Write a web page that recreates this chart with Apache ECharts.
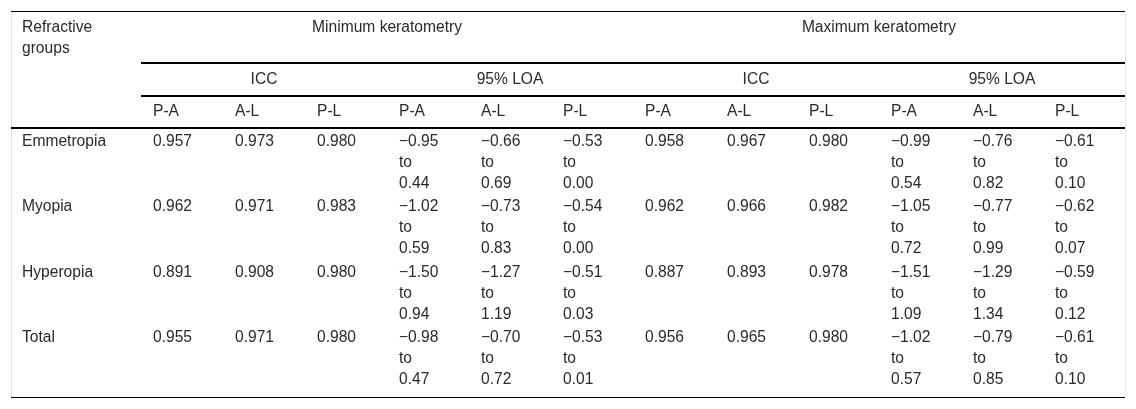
<!DOCTYPE html>
<html>
<head>
<meta charset="utf-8">
<title>Keratometry agreement by refractive group</title>
<script src="https://cdn.jsdelivr.net/npm/echarts@6.0.0/dist/echarts.min.js"></script>
<style>
  html, body { margin: 0; padding: 0; background: #fff; }
  #main { width: 1136px; height: 409px; }
</style>
</head>
<body>
<div id="main"></div>
<script>
// table content
var stubTitle = 'Refractive\ngroups';
var groups = ['Emmetropia', 'Myopia', 'Hyperopia', 'Total'];
var measures = ['Minimum keratometry', 'Maximum keratometry'];
var stats = ['ICC', '95% LOA'];
var pairs = ['P-A', 'A-L', 'P-L'];

// ICC per group, columns P-A, A-L, P-L
var iccMin = [
    [0.957, 0.973, 0.980],
    [0.962, 0.971, 0.983],
    [0.891, 0.908, 0.980],
    [0.955, 0.971, 0.980]
];
var iccMax = [
    [0.958, 0.967, 0.980],
    [0.962, 0.966, 0.982],
    [0.887, 0.893, 0.978],
    [0.956, 0.965, 0.980]
];

// 95% limits of agreement [lower, upper]
var loaMin = [
    [[-0.95, 0.44], [-0.66, 0.69], [-0.53, 0.00]],
    [[-1.02, 0.59], [-0.73, 0.83], [-0.54, 0.00]],
    [[-1.50, 0.94], [-1.27, 1.19], [-0.51, 0.03]],
    [[-0.98, 0.47], [-0.70, 0.72], [-0.53, 0.01]]
];
var loaMax = [
    [[-0.99, 0.54], [-0.76, 0.82], [-0.61, 0.10]],
    [[-1.05, 0.72], [-0.77, 0.99], [-0.62, 0.07]],
    [[-1.51, 1.09], [-1.29, 1.34], [-0.59, 0.12]],
    [[-1.02, 0.57], [-0.79, 0.85], [-0.61, 0.10]]
];

// layout of rows, in table units (table is 23 units high)
var HEAD_TOP = [0, 3.1, 5.05];
var BODY_TOP = 7;
var BODY_ROW = 3.9;
var TABLE_END = 23;

var FONT = '"Liberation Sans", Arial, Helvetica, sans-serif';
var TEXT = '#2a2a2a';

function bodyTop(i) {
    return BODY_TOP + i * BODY_ROW;
}

function fmt(v) {
    return (v < 0 ? '\u2212' : '') + Math.abs(v).toFixed(2);
}

var columns = [];
measures.forEach(function (m) {
    stats.forEach(function (s) {
        pairs.forEach(function (p) {
            columns.push(m + ' / ' + s + ' / ' + p);
        });
    });
});

var iccSets = [iccMin, iccMax];
var loaSets = [loaMin, loaMax];

var dataCells = [];
var stubCells = [{ c0: 0, c1: 0, top: HEAD_TOP[0], text: stubTitle, align: 'left', head: true }];

measures.forEach(function (m, mi) {
    var c0 = mi * 6;
    dataCells.push({ c0: c0, c1: c0 + 5, top: HEAD_TOP[0], text: m, align: 'center', head: true });
    stats.forEach(function (s, si) {
        var c = c0 + si * 3;
        dataCells.push({ c0: c, c1: c + 2, top: HEAD_TOP[1], text: s, align: 'center', head: true });
        pairs.forEach(function (p, pi) {
            dataCells.push({ c0: c + pi, c1: c + pi, top: HEAD_TOP[2], text: p, align: 'left', head: true });
        });
    });
});

groups.forEach(function (g, gi) {
    stubCells.push({ c0: 0, c1: 0, top: bodyTop(gi), text: g, align: 'left' });
    measures.forEach(function (m, mi) {
        pairs.forEach(function (p, pi) {
            var ci = mi * 6 + pi;
            dataCells.push({ c0: ci, c1: ci, top: bodyTop(gi), text: iccSets[mi][gi][pi].toFixed(3), align: 'left' });
            var lim = loaSets[mi][gi][pi];
            dataCells.push({ c0: ci + 3, c1: ci + 3, top: bodyTop(gi), text: fmt(lim[0]) + '\nto\n' + fmt(lim[1]), align: 'left' });
        });
    });
});

// horizontal rules [position, width]
var dataRules = [[HEAD_TOP[0], 1], [HEAD_TOP[1], 2], [HEAD_TOP[2], 2], [BODY_TOP, 2], [TABLE_END, 1]];
var stubRules = [[HEAD_TOP[0], 1], [BODY_TOP, 2], [TABLE_END, 1]];

function cellRenderer(cells) {
    return function (params, api) {
        var c = cells[params.dataIndex];
        var band = api.size([1, 0])[0];
        var p0 = api.coord([c.c0, c.top]);
        var p1 = api.coord([c.c1, c.top]);
        var left = p0[0] - band / 2;
        var right = p1[0] + band / 2;
        var x = c.align === 'center' ? (left + right) / 2 : left + (params.seriesName === 'stub' ? 11 : 12);
        var lh = c.head ? 21.5 : 21;
        return {
            type: 'text',
            style: {
                text: c.text,
                x: x,
                y: p0[1] + (c.head ? 5.5 : 2.7),
                align: c.align,
                verticalAlign: 'top',
                fontFamily: FONT,
                fontSize: 15.6,
                lineHeight: lh,
                fill: TEXT
            }
        };
    };
}

function ruleRenderer(rules) {
    return function (params, api) {
        var r = rules[params.dataIndex];
        var cs = params.coordSys;
        var y = api.coord([0, r[0]])[1];
        y = r[1] % 2 ? Math.floor(y) + 0.5 : Math.round(y);
        return {
            type: 'line',
            shape: { x1: cs.x, y1: y, x2: cs.x + cs.width, y2: y },
            style: { stroke: '#000', lineWidth: r[1] }
        };
    };
}

function yAxisFor(gridIndex, side) {
    return {
        type: 'value',
        gridIndex: gridIndex,
        min: 0,
        max: TABLE_END,
        inverse: true,
        position: side,
        axisLine: { show: true, onZero: false, lineStyle: { color: '#e6e6e6', width: 1 } },
        axisTick: { show: false },
        axisLabel: { show: false },
        splitLine: { show: false }
    };
}

var chart = echarts.init(document.getElementById('main'));

var option = {
    animation: false,
    backgroundColor: '#fff',
    grid: [
        { left: 11, top: 11, width: 130, bottom: 12 },
        { left: 141, top: 11, right: 11, bottom: 12 }
    ],
    xAxis: [
        { type: 'category', gridIndex: 0, data: ['Refractive groups'], show: false },
        { type: 'category', gridIndex: 1, data: columns, show: false }
    ],
    yAxis: [yAxisFor(0, 'left'), yAxisFor(1, 'right')],
    series: [
        {
            name: 'stubRules', type: 'custom', xAxisIndex: 0, yAxisIndex: 0,
            renderItem: ruleRenderer(stubRules), clip: false, silent: true,
            data: stubRules.map(function (r) { return [0, r[0]]; })
        },
        {
            name: 'dataRules', type: 'custom', xAxisIndex: 1, yAxisIndex: 1,
            renderItem: ruleRenderer(dataRules), clip: false, silent: true,
            data: dataRules.map(function (r) { return [0, r[0]]; })
        },
        {
            name: 'stub', type: 'custom', xAxisIndex: 0, yAxisIndex: 0,
            renderItem: cellRenderer(stubCells), clip: false, silent: true,
            data: stubCells.map(function (c) { return [c.c0, c.top]; })
        },
        {
            name: 'cells', type: 'custom', xAxisIndex: 1, yAxisIndex: 1,
            renderItem: cellRenderer(dataCells), clip: false, silent: true,
            data: dataCells.map(function (c) { return [c.c0, c.top]; })
        }
    ]
};

chart.setOption(option);
</script>
</body>
</html>
